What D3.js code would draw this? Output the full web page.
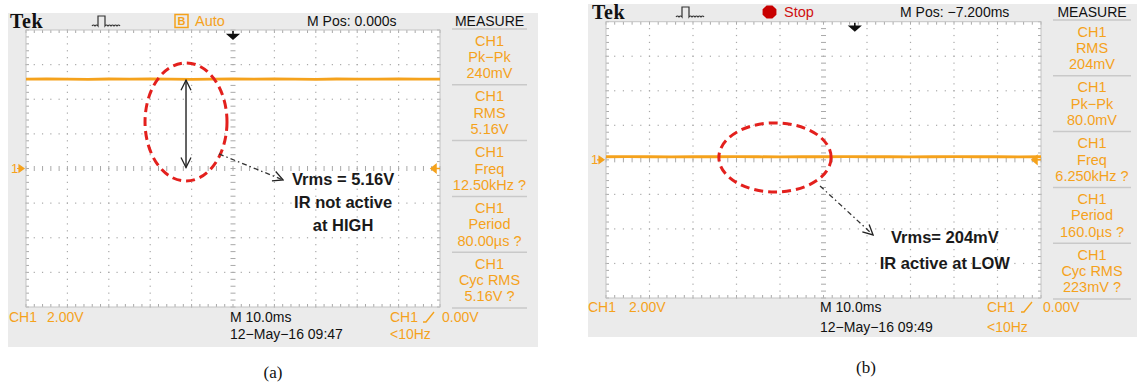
<!DOCTYPE html>
<html><head><meta charset="utf-8">
<script src="https://cdn.jsdelivr.net/npm/d3@7/dist/d3.min.js"></script>
<style>body{margin:0;background:#fff;} svg{display:block;}</style>
</head><body><svg id="c" width="1137" height="387"></svg>
<script>
// ---------- data ----------
const timeTicksMs = [-50,-40,-30,-20,-10,0,10,20,30,40,50];   // 10.0 ms/div
const voltTicks   = [-8,-6,-4,-2,0,2,4,6,8];                    // 2.00 V/div
const traceTimeMs = [-50,-45,-40,-35,-30,-25,-20,-15,-10,-5,0,5,10,15,20,25,30,35,40,45,50];
const traceA = [5.16,5.18,5.16,5.15,5.17,5.16,5.18,5.16,5.15,5.16,5.17,5.16,5.18,5.16,5.15,5.17,5.16,5.16,5.18,5.16,5.16];
const traceB = [0.18,0.19,0.18,0.17,0.18,0.18,0.19,0.18,0.17,0.18,0.18,0.19,0.18,0.18,0.17,0.18,0.19,0.18,0.18,0.17,0.18];
const measureA = [["CH1","Pk\u2212Pk","240mV"],["CH1","RMS","5.16V"],["CH1","Freq","12.50kHz ?"],["CH1","Period","80.00\u00b5s ?"],["CH1","Cyc RMS","5.16V ?"]];
const measureB = [["CH1","RMS","204mV"],["CH1","Pk\u2212Pk","80.0mV"],["CH1","Freq","6.250kHz ?"],["CH1","Period","160.0\u00b5s ?"],["CH1","Cyc RMS","223mV ?"]];
const mPosText = ["M Pos: 0.000s","M Pos: \u22127.200ms"];
const triggerTimeMs = [0, 7.2];
const dateText = ["12\u2212May\u221216 09:47","12\u2212May\u221216 09:49"];
const noteA = ["Vrms = 5.16V","IR not active","at HIGH"];
const noteB = ["Vrms= 204mV","IR active at LOW"];
const captions = ["(a)","(b)"];

// ---------- style ----------
const ORANGE = "#f5a21c", GRAYBG = "#ebebeb", GRID = "#a9a9a9", RED = "#e3201d";
const SANS = "'Liberation Sans', Arial, sans-serif";
const svg = d3.select("#c");

const panels = [
  {box:[8,13,530,334], plot:[26,440,30,307], headY:21, tekX:10, iconX:92, modeX:175, mode:"auto",
   mposX:307, measX:[452,527], measY0:29, measStep:55.8, botY:[317,334], ch1X:[9,47], mX:230, trigX:[390,423,442],
   trace:traceA, meas:measureA, mpos:mPosText[0], trig:triggerTimeMs[0], date:dateText[0],
   ell:{t:-11.35,v:2.69,rt:9.9,rv:3.41}, dbl:true,
   arrow:[[-3.4,0.84],[12.1,-0.66]], note:noteA, noteT:26.6, noteV:[-0.61,-1.94,-3.26],
   cap:captions[0], capX:273, capY:372},
  {box:[588,4,549,333], plot:[606,1041,21.7,298], headY:12, tekX:592, iconX:676, modeX:762, mode:"stop",
   mposX:900, measX:[1053,1131], measY0:20, measStep:55.8, botY:[307,327], ch1X:[588,629], mX:820, trigX:[987,1021,1043],
   trace:traceB, meas:measureB, mpos:mPosText[1], trig:triggerTimeMs[1], date:dateText[1],
   ell:{t:-11.15,v:0.14,rt:12.9,rv:2.0}, dbl:false,
   arrow:[[-0.8,-1.51],[11.4,-4.35]], note:noteB, noteT:27.9, noteV:[-4.47,-5.97],
   cap:captions[1], capX:866, capY:367}
];

const defs = svg.append("defs");
defs.append("marker").attr("id","open").attr("viewBox","0 0 12 12").attr("refX",11).attr("refY",6)
  .attr("markerWidth",12).attr("markerHeight",12).attr("markerUnits","userSpaceOnUse").attr("orient","auto-start-reverse")
  .append("path").attr("d","M1,1 L11,6 L1,11").attr("fill","none").attr("stroke","#222").attr("stroke-width",1.3);

panels.forEach(p => {
  const g = svg.append("g");
  const [bx,by,bw,bh] = p.box;
  g.append("rect").attr("x",bx).attr("y",by).attr("width",bw).attr("height",bh).attr("fill",GRAYBG);
  const [x0,x1,y0,y1] = p.plot;
  const x = d3.scaleLinear().domain([timeTicksMs[0], timeTicksMs[timeTicksMs.length-1]]).range([x0,x1]);
  const y = d3.scaleLinear().domain([voltTicks[0], voltTicks[voltTicks.length-1]]).range([y1,y0]);
  g.append("rect").attr("x",x0).attr("y",y0).attr("width",x1-x0).attr("height",y1-y0).attr("fill","#fff");

  const tMinor = d3.range(timeTicksMs[0], timeTicksMs[timeTicksMs.length-1]+0.001, 2);
  const vMinor = d3.range(voltTicks[0], voltTicks[voltTicks.length-1]+0.001, 0.4);
  const grid = g.append("g").attr("fill",GRID);
  timeTicksMs.slice(1,-1).forEach(t => {
    if (t===0) return;
    vMinor.forEach(v => grid.append("rect").attr("x",x(t)-0.6).attr("y",y(v)-0.6).attr("width",1.2).attr("height",1.2));
  });
  voltTicks.slice(1,-1).forEach(v => {
    if (v===0) return;
    tMinor.forEach(t => grid.append("rect").attr("x",x(t)-0.6).attr("y",y(v)-0.6).attr("width",1.2).attr("height",1.2));
  });
  vMinor.forEach(v => grid.append("rect").attr("x",x(0)-2.5).attr("y",y(v)-0.5).attr("width",5).attr("height",1));
  tMinor.forEach(t => grid.append("rect").attr("x",x(t)-0.5).attr("y",y(0)-2.5).attr("width",1).attr("height",5));
  tMinor.forEach(t => {
    grid.append("rect").attr("x",x(t)-0.5).attr("y",y0).attr("width",1).attr("height",3);
    grid.append("rect").attr("x",x(t)-0.5).attr("y",y1-3).attr("width",1).attr("height",3);
  });
  vMinor.forEach(v => {
    grid.append("rect").attr("x",x0).attr("y",y(v)-0.5).attr("width",3).attr("height",1);
    grid.append("rect").attr("x",x1-3).attr("y",y(v)-0.5).attr("width",3).attr("height",1);
  });
  g.append("rect").attr("x",x0).attr("y",y0).attr("width",x1-x0).attr("height",y1-y0)
    .attr("fill","none").attr("stroke","#c4c4c4").attr("stroke-width",1);

  // trace
  g.append("path").datum(traceTimeMs.map((t,i)=>[t,p.trace[i]]))
    .attr("d", d3.line().x(d=>x(d[0])).y(d=>y(d[1])))
    .attr("fill","none").attr("stroke",ORANGE).attr("stroke-width",2.8);

  g.append("text").attr("x",x0-15).attr("y",y(0)).attr("dy","0.35em").attr("font-family",SANS)
    .attr("font-size",13).attr("fill",ORANGE).text("1");
  g.append("path").attr("d",`M${x0-7},${y(0)-3.5} L${x0-2},${y(0)} L${x0-7},${y(0)+3.5} Z M${x0-9},${y(0)} H${x0-3}`)
    .attr("fill",ORANGE).attr("stroke",ORANGE).attr("stroke-width",1.2);
  g.append("path").attr("d",`M${x1-9},${y(0)} L${x1-4},${y(0)-4} L${x1-4},${y(0)+4} Z M${x1-5},${y(0)} H${x1}`)
    .attr("fill",ORANGE).attr("stroke",ORANGE).attr("stroke-width",1.5);
  const tx = x(p.trig);
  g.append("path").attr("d",`M${tx},${y0+1} V${y0+5} M${tx-5},${y0+4.5} H${tx+5} L${tx},${y0+9} Z`)
    .attr("fill","#111").attr("stroke","#111").attr("stroke-width",1.6);

  // header
  g.append("text").attr("x",p.tekX).attr("y",p.headY).attr("dy","0.35em")
    .attr("font-family","'Liberation Serif', 'Times New Roman', serif").attr("font-weight","bold")
    .attr("font-size",20).attr("letter-spacing",0.6).attr("fill","#111").text("Tek");
  const ix = p.iconX, iy = p.headY;
  g.append("path").attr("d",`M${ix},${iy+5} q1.5,-2 3,0 q1.5,-2 3,0 V${iy-5} H${ix+13} V${iy+5} q1.5,-2 3,0 q1.5,-2 3,0 q1.5,-2 3,0 q1.5,-2 3,0 q1.5,-2 3,0`)
    .attr("fill","none").attr("stroke","#333").attr("stroke-width",1.2);
  if (p.mode==="auto") {
    g.append("rect").attr("x",p.modeX).attr("y",p.headY-6.5).attr("width",13).attr("height",13)
      .attr("fill","none").attr("stroke",ORANGE).attr("stroke-width",1.5);
    g.append("text").attr("x",p.modeX+6.5).attr("y",p.headY).attr("dy","0.36em").attr("text-anchor","middle")
      .attr("font-family",SANS).attr("font-size",11).attr("font-weight","bold").attr("fill",ORANGE).text("B");
    g.append("text").attr("x",p.modeX+20).attr("y",p.headY).attr("dy","0.35em").attr("font-family",SANS)
      .attr("font-size",14.5).attr("fill",ORANGE).text("Auto");
  } else {
    const cx = p.modeX+7.5, cy = p.headY;
    const oct = d3.range(8).map(k => { const a = Math.PI/8 + k*Math.PI/4; return [cx+7.5*Math.cos(a), cy+7*Math.sin(a)]; });
    g.append("path").attr("d","M"+oct.join("L")+"Z").attr("fill","#c80000");
    g.append("text").attr("x",p.modeX+22).attr("y",p.headY).attr("dy","0.35em").attr("font-family",SANS)
      .attr("font-size",14.5).attr("fill","#d01010").text("Stop");
  }
  g.append("text").attr("x",p.mposX).attr("y",p.headY).attr("dy","0.35em").attr("font-family",SANS)
    .attr("font-size",14).attr("fill","#111").text(p.mpos);
  const mcx = (p.measX[0]+p.measX[1])/2;
  g.append("text").attr("x",mcx).attr("y",p.headY).attr("dy","0.35em").attr("text-anchor","middle")
    .attr("font-family",SANS).attr("font-size",14).attr("fill","#111").text("MEASURE");

  p.meas.forEach((rows,i) => {
    const sy = p.measY0 + i*p.measStep;
    g.append("line").attr("x1",p.measX[0]).attr("x2",p.measX[1]).attr("y1",sy).attr("y2",sy)
      .attr("stroke","#c9c9c9").attr("stroke-width",1.5);
    rows.forEach((r,j) => g.append("text").attr("x",mcx).attr("y",sy+p.measStep/2+(j-1)*16.3).attr("dy","0.35em")
      .attr("text-anchor","middle").attr("font-family",SANS).attr("font-size",14.5).attr("fill",ORANGE).text(r));
  });
  const ly = p.measY0 + p.meas.length*p.measStep;
  g.append("line").attr("x1",p.measX[0]).attr("x2",p.measX[1]).attr("y1",ly).attr("y2",ly)
    .attr("stroke","#c9c9c9").attr("stroke-width",1.5);

  const t1 = p.botY[0], t2 = p.botY[1];
  const txt = (xx,yy,s,c) => g.append("text").attr("x",xx).attr("y",yy).attr("dy","0.35em")
    .attr("font-family",SANS).attr("font-size",14).attr("fill",c).text(s);
  txt(p.ch1X[0],t1,"CH1",ORANGE);
  txt(p.ch1X[1],t1,"2.00V",ORANGE);
  txt(p.mX,t1,"M 10.0ms","#111");
  txt(p.mX,t2,p.date,"#111");
  txt(p.trigX[0],t1,"CH1",ORANGE);
  g.append("path").attr("d",`M${p.trigX[1]},${t1+5} H${p.trigX[1]+3} L${p.trigX[1]+11},${t1-5}`)
    .attr("fill","none").attr("stroke",ORANGE).attr("stroke-width",1.4);
  txt(p.trigX[2],t1,"0.00V",ORANGE);
  txt(p.trigX[0],t2,"<10Hz",ORANGE);

  const e = p.ell;
  g.append("ellipse").attr("cx",x(e.t)).attr("cy",y(e.v))
    .attr("rx",x(e.t+e.rt)-x(e.t)).attr("ry",y(e.v)-y(e.v+e.rv))
    .attr("fill","none").attr("stroke",RED).attr("stroke-width",3).attr("stroke-dasharray","9,5");
  if (p.dbl) {
    g.append("line").attr("x1",x(e.t)).attr("x2",x(e.t)).attr("y1",y(p.trace[0])+1).attr("y2",y(0)-1)
      .attr("stroke","#222").attr("stroke-width",1.4)
      .attr("marker-start","url(#open)").attr("marker-end","url(#open)");
  }
  g.append("line").attr("x1",x(p.arrow[0][0])).attr("y1",y(p.arrow[0][1]))
    .attr("x2",x(p.arrow[1][0])).attr("y2",y(p.arrow[1][1]))
    .attr("stroke","#333").attr("stroke-width",1.3).attr("stroke-dasharray","5,3,1.5,3")
    .attr("marker-end","url(#open)");
  p.note.forEach((s,i) => g.append("text").attr("x",x(p.noteT)).attr("y",y(p.noteV[i])).attr("dy","0.35em")
    .attr("text-anchor","middle").attr("font-family",SANS).attr("font-weight","bold")
    .attr("font-size",16.5).attr("fill","#1a1a1a").text(s));

  svg.append("text").attr("x",p.capX).attr("y",p.capY).attr("dy","0.35em").attr("text-anchor","middle")
    .attr("font-family","'Liberation Serif', 'Times New Roman', serif").attr("font-size",17).attr("fill","#111").text(p.cap);
});
</script></body></html>
